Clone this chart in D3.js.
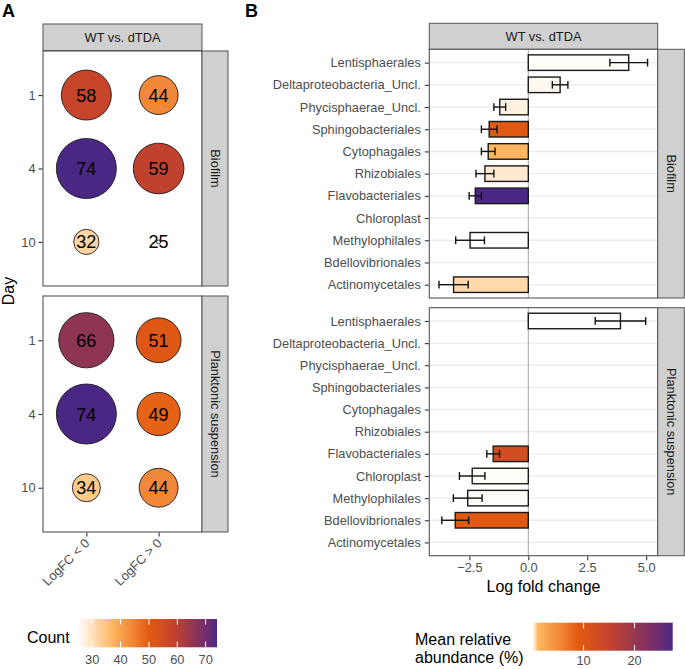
<!DOCTYPE html>
<html><head><meta charset="utf-8">
<script src="https://cdn.jsdelivr.net/npm/d3@7"></script>
<style>body{margin:0;background:#fff;} text{font-family:"Liberation Sans",Arial,sans-serif;}</style>
</head><body>
<svg id="c" width="685" height="669"></svg>
<script>
// ---------- DATA ----------
const days = ["1", "4", "10"];
const directions = ["LogFC < 0", "LogFC > 0"];
const biofilmNeg = [58, 74, 32];
const biofilmPos = [44, 59, 25];
const planktonicNeg = [66, 74, 34];
const planktonicPos = [51, 49, 44];
const countTicks = [30, 40, 50, 60, 70];

const orders = ["Lentisphaerales", "Deltaproteobacteria_Uncl.", "Phycisphaerae_Uncl.", "Sphingobacteriales",
  "Cytophagales", "Rhizobiales", "Flavobacteriales", "Chloroplast", "Methylophilales", "Bdellovibrionales", "Actinomycetales"];
const biofilmLfc = [4.26, 1.35, -1.21, -1.66, -1.70, -1.84, -2.25, null, -2.47, null, -3.17];
const biofilmSe  = [0.80, 0.33, 0.25, 0.33, 0.29, 0.38, 0.26, null, 0.61, null, 0.62];
const biofilmAbund = [0.03, 0.1, 0.2, 9.5, 1.1, 0.3, 27.5, null, 0.01, null, 0.55];
const planktonicLfc = [3.91, null, null, null, null, null, -1.49, -2.38, -2.57, -3.10, null];
const planktonicSe  = [1.07, null, null, null, null, null, 0.27, 0.54, 0.61, 0.57, null];
const planktonicAbund = [0.02, null, null, null, null, null, 12.5, 0.03, 0.03, 9.5, null];
const lfcTicks = [-2.5, 0, 2.5, 5];
const abundTicks = [10, 20];

// ---------- SETUP ----------
const svg = d3.select("#c");
const grey30 = "#4d4d4d";
const borderCol = "#555";
const stripFill = "#d0d0d0";
const txt = (g, x, y, s, size, opts = {}) => g.append("text").attr("x", x).attr("y", y).text(s)
  .attr("font-size", size).attr("fill", opts.fill || "#1a1a1a").attr("text-anchor", opts.anchor || "start")
  .attr("font-weight", opts.weight || "normal").attr("transform", opts.transform || null);

const paletteCols = ["#FFFFFF", "#FDB863", "#E35A0E", "#C4432B", "#8E3555", "#4A2785"];
const colCount = d3.scaleLinear().domain([25, 37, 50, 58.5, 66, 74])
  .range(paletteCols).interpolate(d3.interpolateLab).clamp(true);
const colAbund = d3.scaleLinear().domain([0, 1.0, 9.0, 15, 21, 27.5])
  .range(paletteCols).interpolate(d3.interpolateLab).clamp(true);
const rScale = d3.scaleSqrt().domain([0, 49]).range([2, 30]);

// Panel labels
txt(svg, 2, 17, "A", 18, {weight: "bold", fill: "#000"});
txt(svg, 245, 17, "B", 18, {weight: "bold", fill: "#000"});

// ---------- PANEL A ----------
const AX0 = 43, AX1 = 202, AS1 = 228;
const xA = d3.scalePoint().domain(directions).range([AX0, AX1]).padding(0.6);
const panelsA = [
  {y0: 51, y1: 286, neg: biofilmNeg, pos: biofilmPos, label: "Biofilm"},
  {y0: 296, y1: 532, neg: planktonicNeg, pos: planktonicPos, label: "Planktonic suspension"}
];
svg.append("rect").attr("x", AX0).attr("y", 24).attr("width", AX1 - AX0).attr("height", 26.5)
  .attr("fill", stripFill).attr("stroke", borderCol).attr("stroke-width", 1);
txt(svg, (AX0 + AX1) / 2, 41.5, "WT vs. dTDA", 12.8, {anchor: "middle"});

panelsA.forEach((p, pi) => {
  const yA = d3.scalePoint().domain(days).range([p.y0, p.y1]).padding(0.6);
  const g = svg.append("g");
  g.append("rect").attr("x", AX0).attr("y", p.y0).attr("width", AX1 - AX0).attr("height", p.y1 - p.y0)
    .attr("fill", "#fff");
  const pts = [];
  days.forEach((d, i) => {
    pts.push({dir: directions[0], day: d, v: p.neg[i]});
    pts.push({dir: directions[1], day: d, v: p.pos[i]});
  });
  g.selectAll("circle.pt").data(pts).join("circle")
    .attr("cx", d => xA(d.dir)).attr("cy", d => yA(d.day)).attr("r", d => rScale(d.v - 25))
    .attr("fill", d => colCount(d.v)).attr("stroke", "#1a1a1a").attr("stroke-width", 0.9);
  g.selectAll("text.lab").data(pts).join("text")
    .attr("x", d => xA(d.dir)).attr("y", d => yA(d.day) + 6.5).text(d => d.v)
    .attr("text-anchor", "middle").attr("font-size", 18).attr("fill", "#000");
  g.append("rect").attr("x", AX0).attr("y", p.y0).attr("width", AX1 - AX0).attr("height", p.y1 - p.y0)
    .attr("fill", "none").attr("stroke", borderCol).attr("stroke-width", 1.1);
  const ya = svg.append("g").attr("transform", `translate(${AX0 - 0.5},0)`)
    .call(d3.axisLeft(yA).tickSize(4).tickPadding(3));
  ya.select(".domain").remove();
  ya.selectAll(".tick line").attr("stroke", "#333").attr("stroke-width", 1.1);
  ya.selectAll(".tick text").attr("font-size", 12.8).attr("fill", grey30);
  svg.append("rect").attr("x", AX1).attr("y", p.y0).attr("width", AS1 - AX1).attr("height", p.y1 - p.y0)
    .attr("fill", stripFill).attr("stroke", borderCol).attr("stroke-width", 1);
  const cy = (p.y0 + p.y1) / 2, cx = (AX1 + AS1) / 2;
  txt(svg, cx, cy, p.label, 12.8, {anchor: "middle", transform: `rotate(90,${cx},${cy}) translate(0,4.5)`});
  if (pi === 1) {
    const xa = svg.append("g").attr("transform", `translate(0,${p.y1 + 0.5})`)
      .call(d3.axisBottom(xA).tickSize(4).tickFormat(() => ""));
    xa.select(".domain").remove();
    xa.selectAll(".tick line").attr("stroke", "#333").attr("stroke-width", 1.1);
    directions.forEach(dir => {
      const x = xA(dir) + 4, y = p.y1 + 12;
      txt(svg, x, y, dir, 12.8, {anchor: "end", fill: grey30, transform: `rotate(-45,${x},${y})`});
    });
  }
});
txt(svg, 14, 291, "Day", 16, {anchor: "middle", fill: "#000", transform: "rotate(-90,14,291)"});

// ---------- PANEL B ----------
const BX0 = 429.3, BX1 = 657.7, BS1 = 684.3;
const xB = d3.scaleLinear().domain([-4.2, 5.49]).range([BX0, BX1]);
svg.append("rect").attr("x", BX0).attr("y", 23.3).attr("width", BX1 - BX0).attr("height", 26)
  .attr("fill", stripFill).attr("stroke", borderCol).attr("stroke-width", 1);
txt(svg, (BX0 + BX1) / 2, 40.8, "WT vs. dTDA", 12.8, {anchor: "middle"});
const panelsB = [
  {y0: 49.3, y1: 298, lfc: biofilmLfc, se: biofilmSe, ab: biofilmAbund, label: "Biofilm"},
  {y0: 307.7, y1: 555.7, lfc: planktonicLfc, se: planktonicSe, ab: planktonicAbund, label: "Planktonic suspension"}
];
panelsB.forEach((p, pi) => {
  const yB = d3.scalePoint().domain(orders).range([p.y0, p.y1]).padding(0.6);
  const step = yB.step();
  const g = svg.append("g");
  g.append("rect").attr("x", BX0).attr("y", p.y0).attr("width", BX1 - BX0).attr("height", p.y1 - p.y0).attr("fill", "#fff");
  g.selectAll("line.grid").data(orders).join("line")
    .attr("x1", BX0).attr("x2", BX1).attr("y1", d => yB(d)).attr("y2", d => yB(d))
    .attr("stroke", "#ebebeb").attr("stroke-width", 1.4);
  g.append("line").attr("x1", xB(0)).attr("x2", xB(0)).attr("y1", p.y0).attr("y2", p.y1)
    .attr("stroke", "#a6a6a6").attr("stroke-width", 1);
  const data = orders.map((o, i) => ({o, v: p.lfc[i], se: p.se[i], ab: p.ab[i]})).filter(d => d.v !== null);
  const bh = step * 0.7;
  g.selectAll("rect.bar").data(data).join("rect")
    .attr("x", d => xB(Math.min(0, d.v))).attr("width", d => Math.abs(xB(d.v) - xB(0)))
    .attr("y", d => yB(d.o) - bh / 2).attr("height", bh)
    .attr("fill", d => colAbund(d.ab)).attr("stroke", "#1a1a1a").attr("stroke-width", 1.4);
  const cap = step * 0.35;
  const eb = g.selectAll("g.eb").data(data).join("g").attr("stroke", "#111").attr("stroke-width", 1.4);
  eb.append("line").attr("x1", d => xB(d.v - d.se)).attr("x2", d => xB(d.v + d.se))
    .attr("y1", d => yB(d.o)).attr("y2", d => yB(d.o));
  eb.append("line").attr("x1", d => xB(d.v - d.se)).attr("x2", d => xB(d.v - d.se))
    .attr("y1", d => yB(d.o) - cap / 2).attr("y2", d => yB(d.o) + cap / 2);
  eb.append("line").attr("x1", d => xB(d.v + d.se)).attr("x2", d => xB(d.v + d.se))
    .attr("y1", d => yB(d.o) - cap / 2).attr("y2", d => yB(d.o) + cap / 2);
  g.append("rect").attr("x", BX0).attr("y", p.y0).attr("width", BX1 - BX0).attr("height", p.y1 - p.y0)
    .attr("fill", "none").attr("stroke", borderCol).attr("stroke-width", 1.1);
  const ya = svg.append("g").attr("transform", `translate(${BX0 - 0.5},0)`)
    .call(d3.axisLeft(yB).tickSize(4).tickPadding(4));
  ya.select(".domain").remove();
  ya.selectAll(".tick line").attr("stroke", "#333").attr("stroke-width", 1.1);
  ya.selectAll(".tick text").attr("font-size", 12.8).attr("fill", grey30);
  svg.append("rect").attr("x", BX1).attr("y", p.y0).attr("width", BS1 - BX1).attr("height", p.y1 - p.y0)
    .attr("fill", stripFill).attr("stroke", borderCol).attr("stroke-width", 1);
  const cy = (p.y0 + p.y1) / 2, cx = (BX1 + BS1) / 2;
  txt(svg, cx, cy, p.label, 12.8, {anchor: "middle", transform: `rotate(90,${cx},${cy}) translate(0,4.5)`});
  if (pi === 1) {
    const xa = svg.append("g").attr("transform", `translate(0,${p.y1 + 0.5})`)
      .call(d3.axisBottom(xB).tickValues(lfcTicks).tickFormat(d3.format(".1f")).tickSize(4).tickPadding(3));
    xa.select(".domain").remove();
    xa.selectAll(".tick line").attr("stroke", "#333").attr("stroke-width", 1.1);
    xa.selectAll(".tick text").attr("font-size", 12.8).attr("fill", grey30);
  }
});
txt(svg, (BX0 + BX1) / 2, 592, "Log fold change", 16, {anchor: "middle", fill: "#000"});

// ---------- LEGENDS ----------
function colorbar(id, scale, x0, x1, y0, y1, ticks, labelY) {
  const d = scale.domain();
  const dom = [d[0], d[d.length - 1]];
  const grad = svg.append("defs").append("linearGradient").attr("id", id);
  d3.range(0, 1.0001, 0.01).forEach(t => {
    grad.append("stop").attr("offset", t).attr("stop-color", scale(dom[0] + t * (dom[1] - dom[0])));
  });
  svg.append("rect").attr("x", x0).attr("y", y0).attr("width", x1 - x0).attr("height", y1 - y0).attr("fill", `url(#${id})`);
  const s = d3.scaleLinear().domain(dom).range([x0, x1]);
  const h = (y1 - y0) / 5;
  ticks.forEach(t => {
    svg.append("line").attr("x1", s(t)).attr("x2", s(t)).attr("y1", y0).attr("y2", y0 + h).attr("stroke", "#fff").attr("stroke-width", 1);
    svg.append("line").attr("x1", s(t)).attr("x2", s(t)).attr("y1", y1 - h).attr("y2", y1).attr("stroke", "#fff").attr("stroke-width", 1);
    txt(svg, s(t), labelY, t, 12.8, {anchor: "middle", fill: grey30});
  });
}
txt(svg, 27, 643, "Count", 16, {fill: "#000"});
colorbar("gA", colCount, 78, 217, 619, 647.3, countTicks, 664);
txt(svg, 415, 645, "Mean relative", 16, {fill: "#000"});
txt(svg, 415, 663, "abundance (%)", 16, {fill: "#000"});
colorbar("gB", colAbund, 532.7, 672.7, 622.7, 650.7, abundTicks, 664.5);
</script>
</body></html>
